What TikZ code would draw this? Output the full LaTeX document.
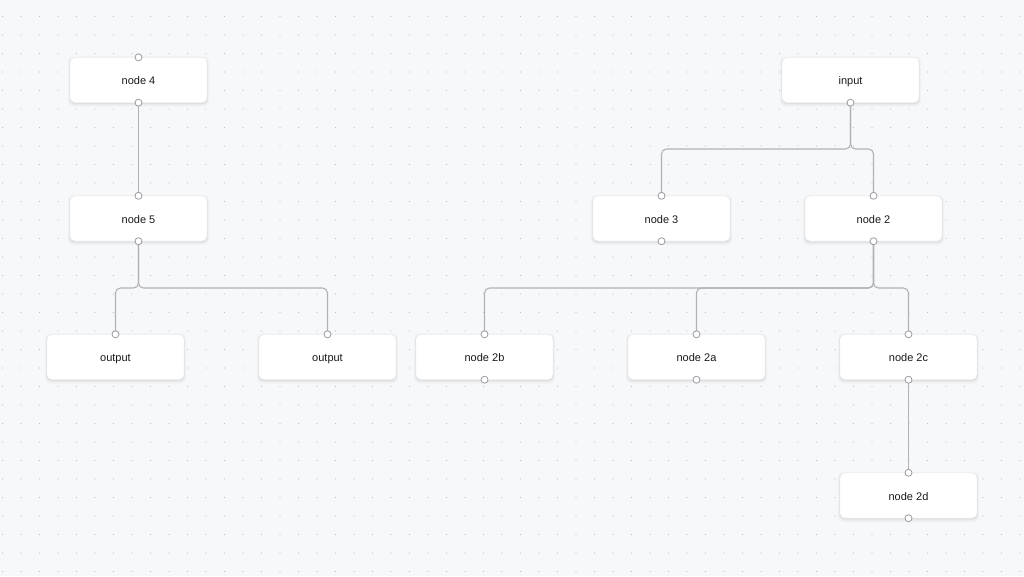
\documentclass[tikz,border=0pt]{standalone}
\usepackage{fontspec}
\setmainfont{Liberation Sans}
\usetikzlibrary{backgrounds}
\definecolor{bgc}{HTML}{F7F8FA}
\definecolor{dotc}{HTML}{BFC3C8}
\definecolor{edgec}{HTML}{B1B1B7}
\definecolor{boxline}{HTML}{EDEEF0}
\definecolor{handlec}{HTML}{9A9AA0}
\tikzset{
  box/.style={draw=boxline, line width=0.4pt, fill=white, rounded corners=5pt,
    minimum width=137pt, minimum height=45pt, inner sep=0pt,
    text height=9pt, text depth=0pt,
    font=\fontsize{11}{13}\selectfont, text=black!90},
  handle/.style={circle, draw=handlec, line width=0.8pt, fill=white, minimum size=7pt, inner sep=0pt},
  edge/.style={draw=edgec, line width=1.1pt, rounded corners=5pt},
  shad/.style={fill=black, rounded corners=6pt}
}
\begin{document}
\begin{tikzpicture}[x=1pt,y=-1pt]
\useasboundingbox (0,0) rectangle (1024,576);
% nodes
\node[box] (n4) at (138.5,80) {node 4};
\node[box] (in) at (850.5,80) {input};
\node[box] (n5) at (138.5,218.5) {node 5};
\node[box] (n3) at (661.5,218.5) {node 3};
\node[box] (n2) at (873.5,218.5) {node 2};
\node[box] (o1) at (115.5,357) {output};
\node[box] (o2) at (327.5,357) {output};
\node[box] (n2b) at (484.5,357) {node 2b};
\node[box] (n2a) at (696.5,357) {node 2a};
\node[box] (n2c) at (908.5,357) {node 2c};
\node[box] (n2d) at (908.5,495.5) {node 2d};
\begin{scope}[on background layer]
\fill[bgc] (0,0) rectangle (1024,576);
\foreach \i in {0,...,55} {
  \foreach \j in {0,...,31} {
    \fill[dotc] (2.5+\i*18.5, -2+\j*18.5) circle (0.65pt);
  }
}
\foreach \n in {n4,in,n5,n3,n2,o1,o2,n2b,n2a,n2c,n2d} {
  \fill[shad, opacity=0.025] ([xshift=-2pt,yshift=-4pt]\n.south west) rectangle ([xshift=2pt,yshift=1pt]\n.north east);
  \fill[shad, opacity=0.035] ([xshift=-1pt,yshift=-2.5pt]\n.south west) rectangle ([xshift=1pt,yshift=0pt]\n.north east);
  \fill[shad, opacity=0.04] ([xshift=-0.3pt,yshift=-1.2pt]\n.south west) rectangle ([xshift=0.3pt,yshift=-0.5pt]\n.north east);
}
\end{scope}
% handle positions
\coordinate (n4t) at (n4.north); \coordinate (n4b) at (n4.south);
\coordinate (inb) at (in.south);
\coordinate (n5t) at (n5.north); \coordinate (n5b) at (n5.south);
\coordinate (n3t) at (n3.north); \coordinate (n3b) at (n3.south);
\coordinate (n2t) at (n2.north); \coordinate (n2bt) at (n2.south);
\coordinate (o1t) at (o1.north);
\coordinate (o2t) at (o2.north);
\coordinate (n2bT) at (n2b.north); \coordinate (n2bB) at (n2b.south);
\coordinate (n2aT) at (n2a.north); \coordinate (n2aB) at (n2a.south);
\coordinate (n2cT) at (n2c.north); \coordinate (n2cB) at (n2c.south);
\coordinate (n2dT) at (n2d.north); \coordinate (n2dB) at (n2d.south);
\coordinate (m1) at (0,149);
\coordinate (m2) at (0,288);
% edges
\draw[edge] (n4b) -- (n5t);
\draw[edge] (inb) -- (inb |- m1) -- (n3t |- m1) -- (n3t);
\draw[edge] (inb) -- (inb |- m1) -- (n2t |- m1) -- (n2t);
\draw[edge] (n5b) -- (n5b |- m2) -- (o1t |- m2) -- (o1t);
\draw[edge] (n5b) -- (n5b |- m2) -- (o2t |- m2) -- (o2t);
\draw[edge] (n2bt) -- (n2bt |- m2) -- (n2bT |- m2) -- (n2bT);
\draw[edge] (n2bt) -- (n2bt |- m2) -- (n2aT |- m2) -- (n2aT);
\draw[edge] (n2bt) -- (n2bt |- m2) -- (n2cT |- m2) -- (n2cT);
\draw[edge] (n2cB) -- (n2dT);
% handles
\foreach \h in {n4t,n4b,inb,n5t,n5b,n3t,n3b,n2t,n2bt,o1t,o2t,n2bT,n2bB,n2aT,n2aB,n2cT,n2cB,n2dT,n2dB}
  \node[handle] at (\h) {};
\end{tikzpicture}
\end{document}
